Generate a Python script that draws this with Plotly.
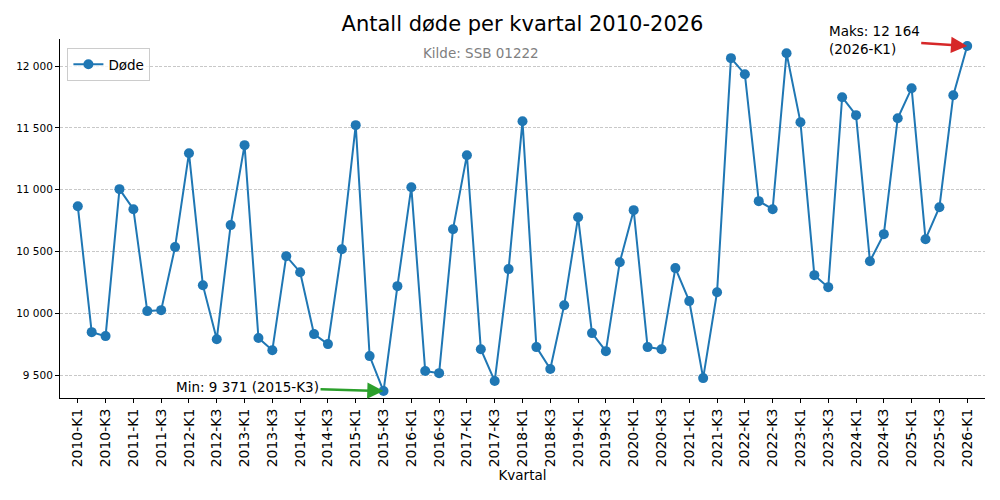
import plotly.graph_objects as go

years = list(range(2010, 2027))
quarters = [f"{y}-K{q}" for y in years for q in (1, 2, 3, 4)][:65]

deaths = [
    10867, 9848, 9816, 11005,
    10843, 10018, 10026, 10536,
    11296, 10228, 9791, 10714,
    11361, 9800, 9702, 10463,
    10333, 9832, 9751, 10519,
    11523, 9654, 9371, 10220,
    11021, 9533, 9516, 10681,
    11280, 9710, 9452, 10358,
    11555, 9727, 9549, 10066,
    10778, 9840, 9694, 10414,
    10835, 9727, 9710, 10366,
    10099, 9476, 10171, 12065,
    11935, 10908, 10843, 12105,
    11547, 10309, 10212, 11749,
    11604, 10422, 10641, 11579,
    11822, 10600, 10859, 11765,
    12164,
]

ytick_vals = [9500, 10000, 10500, 11000, 11500, 12000]
ytick_text = ["9 500", "10 000", "10 500", "11 000", "11 500", "12 000"]

blue = "#1f77b4"
font = "DejaVu Sans"

i_min = deaths.index(min(deaths))
i_max = deaths.index(max(deaths))

fig = go.Figure()
fig.add_trace(go.Scatter(
    x=quarters, y=deaths, mode="lines+markers", name="Døde",
    line=dict(color=blue, width=2),
    marker=dict(color=blue, size=10),
))

fig.add_annotation(
    x=quarters[i_min], y=deaths[i_min],
    text=f"Min: {deaths[i_min]:,} ({quarters[i_min]})".replace(",", " "),
    ax=-136, ay=-4, showarrow=True,
    arrowhead=2, arrowsize=1.3, arrowwidth=2.5, arrowcolor="#2ca02c",
    font=dict(size=13.5, color="black"),
)
fig.add_annotation(
    x=quarters[i_max], y=deaths[i_max],
    text=f"Maks: {deaths[i_max]:,}<br>({quarters[i_max]})".replace(",", " "),
    align="left", ax=-93, ay=-6, showarrow=True,
    arrowhead=2, arrowsize=1.3, arrowwidth=2.5, arrowcolor="#d62728",
    font=dict(size=13.5, color="black"),
)
fig.add_annotation(
    text="Kilde: SSB 01222", xref="paper", yref="paper",
    x=0.455, y=0.961, xanchor="center", yanchor="middle", showarrow=False,
    font=dict(size=13.5, color="#808080"),
)

fig.update_layout(
    width=1000, height=500,
    margin=dict(l=60, r=15, t=39, b=102),
    paper_bgcolor="white", plot_bgcolor="white",
    font=dict(family=font, color="black"),
    title=dict(text="Antall døde per kvartal 2010-2026", xref="paper", x=0.5,
               xanchor="center", y=0.952, yanchor="middle", font=dict(size=21)),
    legend=dict(x=0.008, y=0.975, xanchor="left", yanchor="top",
                bordercolor="#cccccc", borderwidth=1, bgcolor="rgba(255,255,255,0.8)",
                font=dict(size=13.5)),
    showlegend=True,
)
fig.update_xaxes(
    type="category", tickvals=quarters[::2], tickangle=-90,
    range=[-1.28, len(quarters) - 1 + 1.28],
    showline=True, linecolor="black", linewidth=1,
    ticks="outside", ticklen=4, tickcolor="black",
    showgrid=False, tickfont=dict(size=14),
    title=dict(text="Kvartal", font=dict(size=13.5), standoff=4),
)
fig.update_yaxes(
    tickvals=ytick_vals, ticktext=ytick_text,
    range=[9315, 12220],
    showline=True, linecolor="black", linewidth=1,
    ticks="outside", ticklen=4, tickcolor="black",
    showgrid=True, gridcolor="#c8c8c8", griddash="3px,1.5px", gridwidth=1,
    zeroline=False, tickfont=dict(size=10.5),
)

fig.write_html("out.html", config={"displayModeBar": False},
               post_script="document.body.style.margin='0';")
